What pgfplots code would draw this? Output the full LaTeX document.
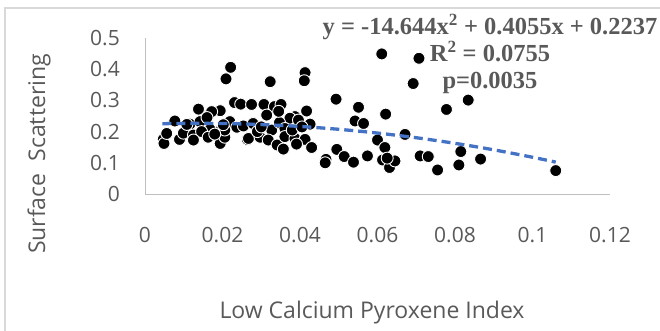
\documentclass[border=0pt]{standalone}
\usepackage{fontspec}
\setmainfont{Open Sans}
\newfontfamily\eqfont{Liberation Serif}
\usepackage{pgfplots}
\pgfplotsset{compat=1.18}
\definecolor{txt}{HTML}{595959}
\definecolor{axl}{HTML}{BFBFBF}
\definecolor{frm}{HTML}{D9D9D9}
\definecolor{trend}{HTML}{4472C4}

% Low calcium pyroxene index vs. surface scattering
\pgfplotstableread{
x y
0.0221 0.406
0.0209 0.369
0.0138 0.272
0.0194 0.267
0.0231 0.293
0.0247 0.288
0.0172 0.264
0.0077 0.234
0.0116 0.224
0.0142 0.232
0.0168 0.207
0.0198 0.210
0.0219 0.232
0.0237 0.214
0.0254 0.218
0.0047 0.175
0.0049 0.162
0.0089 0.175
0.0099 0.195
0.0125 0.189
0.0146 0.200
0.0163 0.182
0.0194 0.162
0.0206 0.182
0.0206 0.205
0.0264 0.175
0.0056 0.194
0.0125 0.173
0.0202 0.222
0.0160 0.245
0.0108 0.223
0.0180 0.192
0.0323 0.360
0.0413 0.389
0.0411 0.363
0.0493 0.304
0.0275 0.287
0.0307 0.287
0.0334 0.280
0.0351 0.287
0.0314 0.253
0.0417 0.266
0.0387 0.248
0.0374 0.243
0.0396 0.237
0.0426 0.224
0.0279 0.226
0.0327 0.205
0.0347 0.229
0.0361 0.210
0.0267 0.178
0.0297 0.182
0.0318 0.173
0.0341 0.157
0.0357 0.144
0.0361 0.184
0.0387 0.178
0.0413 0.175
0.0391 0.160
0.0430 0.149
0.0467 0.111
0.0465 0.100
0.0495 0.143
0.0514 0.120
0.0290 0.200
0.0300 0.215
0.0380 0.205
0.0405 0.215
0.0345 0.265
0.0611 0.449
0.0707 0.435
0.0692 0.354
0.0778 0.271
0.0834 0.301
0.0551 0.278
0.0542 0.234
0.0564 0.226
0.0621 0.256
0.0671 0.191
0.0600 0.173
0.0619 0.149
0.0613 0.109
0.0631 0.085
0.0645 0.106
0.0625 0.115
0.0574 0.122
0.0538 0.102
0.0710 0.122
0.0731 0.120
0.0755 0.077
0.0815 0.136
0.0810 0.093
0.0866 0.112
0.1060 0.075
}\pts

\begin{document}
\begin{tikzpicture}[x=1pt,y=1pt]
\useasboundingbox (0pt,0pt) rectangle (660pt,-331pt);
\draw[frm, line width=1.2pt] (5pt,-8pt) rectangle (690pt,-360pt);
\begin{axis}[
  at={(145pt,-194pt)}, anchor=south west,
  scale only axis, width=465pt, height=156pt,
  xmin=0, xmax=0.12, ymin=0, ymax=0.5,
  clip=false, clip marker paths=true,
  axis x line*=bottom, axis y line*=left,
  axis line style={axl, line width=1pt},
  major tick length=0pt,
  xtick={0,0.02,0.04,0.06,0.08,0.1,0.12},
  xticklabels={0,0.02,0.04,0.06,0.08,0.1,0.12},
  ytick={0,0.1,0.2,0.3,0.4,0.5},
  yticklabels={0,0.1,0.2,0.3,0.4,0.5},
  tick label style={font=\fontsize{21}{21}\selectfont, text=txt},
  xticklabel style={anchor=center, yshift=-41pt},
  yticklabel style={anchor=east, inner sep=0pt, xshift=-25pt},
]
\addplot[only marks, mark=*, mark size=6pt,
  mark options={fill=black, draw=white, line width=0.9pt}] table[x=x, y=y] {\pts};
% quadratic trend line, evaluated from the fitted coefficients
\addplot[trend, line width=3.3pt, dash pattern=on 9pt off 5pt, smooth] coordinates {
(0.0045,0.22523) (0.01,0.22629) (0.02,0.22595) (0.03,0.22269) (0.04,0.21649)
(0.05,0.20737) (0.06,0.19531) (0.07,0.18033) (0.08,0.16242) (0.09,0.14158)
(0.1,0.11781) (0.106,0.10214)};
\end{axis}
\node[text=txt, font=\fontsize{23}{23}\selectfont] at (372pt,-313pt) {Low Calcium Pyroxene Index};
\node[text=txt, font=\fontsize{23}{23}\selectfont, rotate=90] at (39pt,-154pt) {Surface\ \ Scattering};
\node[text=txt, font=\eqfont\bfseries\fontsize{24.5}{27}\selectfont, align=center] at (490pt,-54pt)
  {y = -14.644x\textsuperscript{2} + 0.4055x + 0.2237\\R\textsuperscript{2} = 0.0755\\p=0.0035};
\end{tikzpicture}
\end{document}
